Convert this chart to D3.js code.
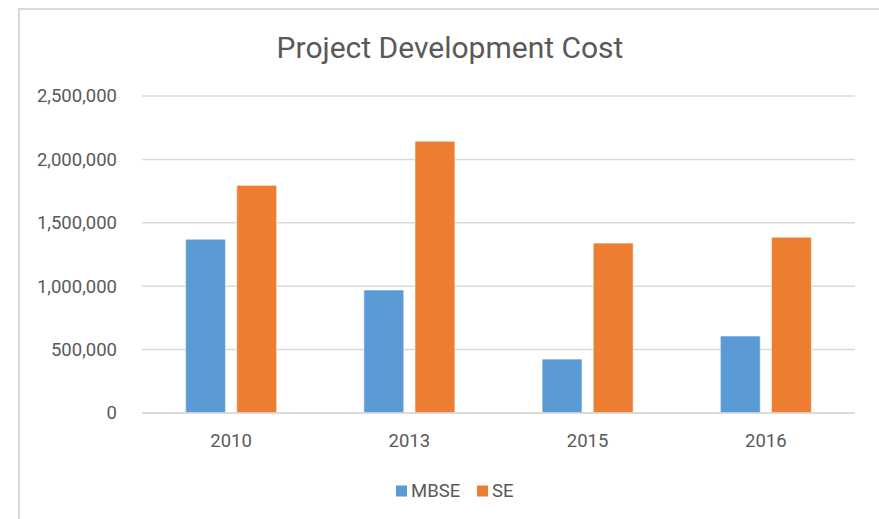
<!DOCTYPE html>
<html>
<head>
<meta charset="utf-8">
<script src="https://cdn.jsdelivr.net/npm/d3@7"></script>
<style>
  body { margin: 0; background: #fff; }
  text { font-family: Roboto, "Noto Sans", sans-serif; fill: #595959; }
</style>
</head>
<body>
<svg id="chart" width="879" height="519"></svg>
<script>
// values
const years = ["2010", "2013", "2015", "2016"];
const mbse = [1370000, 970000, 425000, 607000];
const se = [1795000, 2143000, 1340000, 1386000];
const seriesNames = ["MBSE", "SE"];
const colors = ["#5B9BD5", "#ED7D31"];
const yTicks = [0, 500000, 1000000, 1500000, 2000000, 2500000];

const svg = d3.select("#chart");

// outer frame (only left and top edges are in view)
svg.append("path")
  .attr("d", "M19,519 V9 H879")
  .attr("fill", "none")
  .attr("stroke", "#d9d9d9")
  .attr("stroke-width", 2);

const plot = { left: 142, right: 855, top: 96, bottom: 413 };

const x = d3.scaleBand()
  .domain(years)
  .range([plot.left, plot.right]);

const x1 = d3.scaleBand()
  .domain(seriesNames)
  .range([0, 91])
  .paddingInner(0.22);

const y = d3.scaleLinear()
  .domain([0, 2500000])
  .range([plot.bottom, plot.top]);

// gridlines
svg.append("g")
  .selectAll("line")
  .data(yTicks)
  .enter()
  .append("line")
  .attr("x1", plot.left)
  .attr("x2", plot.right)
  .attr("y1", d => y(d))
  .attr("y2", d => y(d))
  .attr("stroke", "#d9d9d9")
  .attr("stroke-width", 1.5);

// y labels
const fmt = d3.format(",");
svg.append("g")
  .selectAll("text")
  .data(yTicks)
  .enter()
  .append("text")
  .attr("x", 117)
  .attr("y", d => y(d))
  .attr("dy", "0.35em")
  .attr("text-anchor", "end")
  .style("font-size", "18.5px")
  .text(d => fmt(d));

// bars
const rows = years.map((yr, i) => ({ year: yr, values: [mbse[i], se[i]] }));
const groups = svg.append("g")
  .selectAll("g")
  .data(rows)
  .enter()
  .append("g")
  .attr("transform", d => "translate(" + (x(d.year) + x.bandwidth() / 2 - 45.5) + ",0)");

groups.selectAll("rect")
  .data(d => d.values.map((v, j) => ({ name: seriesNames[j], value: v, color: colors[j] })))
  .enter()
  .append("rect")
  .attr("x", d => x1(d.name))
  .attr("width", x1.bandwidth())
  .attr("y", d => y(d.value))
  .attr("height", d => y(0) - y(d.value))
  .attr("fill", d => d.color)
  .attr("stroke", "#fff")
  .attr("stroke-opacity", 0.5)
  .attr("stroke-width", 1);

// baseline redrawn over bars
svg.append("line")
  .attr("x1", plot.left)
  .attr("x2", plot.right)
  .attr("y1", y(0))
  .attr("y2", y(0))
  .attr("stroke", "#d9d9d9")
  .attr("stroke-width", 1.5);

// x labels
svg.append("g")
  .selectAll("text")
  .data(years)
  .enter()
  .append("text")
  .attr("x", d => x(d) + x.bandwidth() / 2)
  .attr("y", 441)
  .attr("dy", "0.35em")
  .attr("text-anchor", "middle")
  .style("font-size", "18.5px")
  .text(d => d);

// title
svg.append("text")
  .attr("x", 450)
  .attr("y", 47)
  .attr("dy", "0.35em")
  .attr("text-anchor", "middle")
  .style("font-size", "30px")
  .text("Project Development Cost");

// legend
const legendX = [396, 477];
const legend = svg.append("g")
  .selectAll("g")
  .data(seriesNames)
  .enter()
  .append("g")
  .attr("transform", (d, i) => "translate(" + legendX[i] + ",491)");
legend.append("rect")
  .attr("x", 0)
  .attr("y", -5.5)
  .attr("width", 11)
  .attr("height", 11)
  .attr("fill", (d, i) => colors[i]);
legend.append("text")
  .attr("x", 15)
  .attr("y", 0)
  .attr("dy", "0.35em")
  .style("font-size", "18.5px")
  .text(d => d);
</script>
</body>
</html>
